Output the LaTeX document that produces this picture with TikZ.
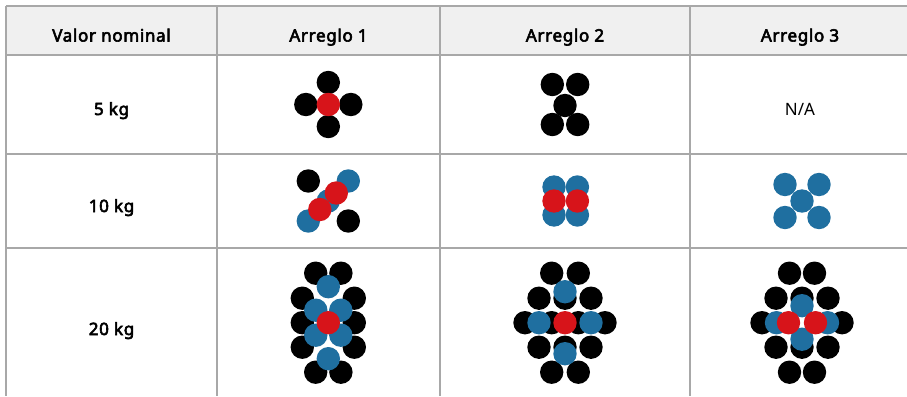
\documentclass[tikz,border=0pt]{standalone}
\usepackage{fontspec}
\setmainfont{Noto Sans}[BoldFont={Noto Sans},BoldFeatures={FakeBold=3.5,LetterSpace=4}]
\definecolor{wred}{HTML}{D7141A}
\definecolor{wblue}{HTML}{1F6FA0}
\definecolor{rulegray}{HTML}{A8A8A8}
\definecolor{headbg}{HTML}{F0F0F0}
\begin{document}
\begin{tikzpicture}[x=1pt,y=-1pt,
  head/.style={anchor=base,font=\fontsize{17}{20}\selectfont\bfseries},
  rowlbl/.style={anchor=base,font=\fontsize{17}{20}\selectfont\bfseries},
  plain/.style={anchor=base,font=\fontsize{17}{20}\selectfont},
  blk/.style={fill=black},
  blu/.style={fill=wblue},
  rd/.style={fill=wred},
  tabrule/.style={draw=rulegray,line width=1.5pt},
  ]
\useasboundingbox (0,0) rectangle (907,396);
\fill[headbg] (6,6) rectangle (907,55);
\foreach \y in {6,55,154,248} \draw[tabrule] (6,\y) -- (907,\y);
\foreach \x in {6,217,440,690} \draw[tabrule] (\x,6) -- (\x,396);

\node[head] (h0) at (111.5,41.5) {Valor nominal};
\node[head] (h1) at (328.5,41.5) {Arreglo 1};
\node[head] (h2) at (565,41.5) {Arreglo 2};
\node[head] (h3) at (800,41.5) {Arreglo 3};
\node[rowlbl] (r1) at (111.5,115) {5 kg};
\node[rowlbl] (r2) at (111.5,212) {10 kg};
\node[rowlbl] (r3) at (111.5,335) {20 kg};
\node[plain] (na) at (800,115) {N/A};

% 5 kg
\begin{scope}[shift={(328.3,104.5)}]
\foreach \x/\y in {0/-22,-22.5/0,22.5/0,0/22} \fill[blk] (\x,\y) circle (11.7pt);
\fill[rd] (0,0) circle (11.7pt);
\end{scope}
\begin{scope}[shift={(565,104.5)}]
\foreach \x/\y in {-12.7/-20,12.7/-20,0/1,-12.7/20,12.7/20} \fill[blk] (\x,\y) circle (11.7pt);
\end{scope}

% 10 kg
\begin{scope}[shift={(328.3,201)}]
\foreach \x/\y in {-20/-20,20/20} \fill[blk] (\x,\y) circle (11.7pt);
\foreach \x/\y in {20/-20,-20/20,0/0} \fill[blu] (\x,\y) circle (11.7pt);
\foreach \x/\y in {8/-8,-8.5/8.5} \fill[rd] (\x,\y) circle (11.7pt);
\end{scope}
\begin{scope}[shift={(565.7,201)}]
\foreach \x/\y in {-11.7/-14,11.7/-14,-11.7/14,11.7/14} \fill[blu] (\x,\y) circle (11.7pt);
\foreach \x in {-11.7,11.7} \fill[rd] (\x,0) circle (11.7pt);
\end{scope}
\begin{scope}[shift={(802,201)}]
\foreach \x/\y in {-17/-16.5,17/-16.5,0/0,-17/16.5,17/16.5} \fill[blu] (\x,\y) circle (11.7pt);
\end{scope}

% 20 kg
\begin{scope}[shift={(328.3,322.7)}]
\foreach \x/\y in {-12.6/-49.5,12.6/-49.5,-26/-24.5,26/-24.5,-26/0,26/0,-26/24.5,26/24.5,-12.6/49.5,12.6/49.5}
  \fill[blk] (\x,\y) circle (11.7pt);
\foreach \x/\y in {0/-36,-12.5/-12.5,12.5/-12.5,-12.5/12.5,12.5/12.5,0/36} \fill[blu] (\x,\y) circle (11.7pt);
\fill[rd] (0,0) circle (11.7pt);
\end{scope}
\begin{scope}[shift={(565,322.7)}]
\foreach \x/\y in {-13.3/-49.5,13.3/-49.5,-26/-24.5,0/-24.5,26/-24.5,-40/0,-13.3/0,13.3/0,40/0,-26/24.5,0/24.5,26/24.5,-13.3/49.5,13.3/49.5}
  \fill[blk] (\x,\y) circle (11.7pt);
\foreach \x/\y in {0/-31,-26/0,26/0,0/31} \fill[blu] (\x,\y) circle (11.7pt);
\fill[rd] (0,0) circle (11.7pt);
\end{scope}
\begin{scope}[shift={(802,322.7)}]
\foreach \x/\y in {-12.5/-49.5,12.5/-49.5,-26/-24.5,0/-24.5,26/-24.5,-40/0,40/0,-26/24.5,0/24.5,26/24.5,-12.5/49.5,12.5/49.5}
  \fill[blk] (\x,\y) circle (11.7pt);
\foreach \x/\y in {-25.5/0,25.5/0,0/-17,0/16.5} \fill[blu] (\x,\y) circle (11.7pt);
\foreach \x in {-13.5,13.5} \fill[rd] (\x,0) circle (11.7pt);
\end{scope}
\end{tikzpicture}
\end{document}
